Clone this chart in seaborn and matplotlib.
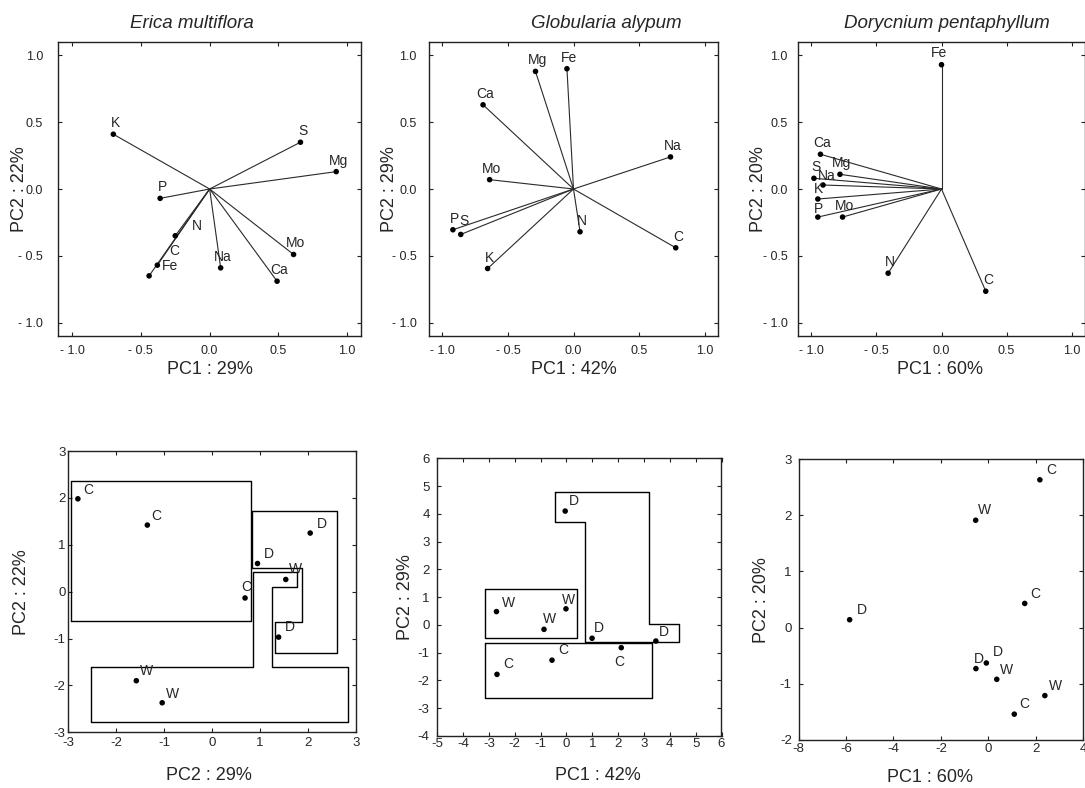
import matplotlib
matplotlib.use("Agg")
import matplotlib.pyplot as plt
import seaborn as sns

sns.set_style("ticks")
plt.rcParams["font.family"] = ["Liberation Sans", "DejaVu Sans"]
plt.rcParams["axes.unicode_minus"] = False

# ----------------------
# Loadings (top row)
# ----------------------
erica_vars = ["K", "S", "Mg", "P", "N", "C", "Fe", "Na", "Mo", "Ca"]
erica_pc1 = [-0.70, 0.66, 0.92, -0.36, -0.25, -0.38, -0.44, 0.08, 0.61, 0.49]
erica_pc2 = [0.41, 0.35, 0.13, -0.07, -0.35, -0.57, -0.65, -0.59, -0.49, -0.69]

glob_vars = ["Mg", "Fe", "Ca", "Na", "Mo", "P", "S", "N", "C", "K"]
glob_pc1 = [-0.29, -0.05, -0.69, 0.74, -0.64, -0.92, -0.86, 0.05, 0.78, -0.655]
glob_pc2 = [0.88, 0.90, 0.63, 0.24, 0.07, -0.305, -0.34, -0.32, -0.44, -0.595]

dory_vars = ["Fe", "Ca", "Mg", "S", "Na", "K", "P", "Mo", "N", "C"]
dory_pc1 = [0.0, -0.93, -0.78, -0.98, -0.91, -0.95, -0.95, -0.76, -0.41, 0.34]
dory_pc2 = [0.93, 0.26, 0.11, 0.08, 0.03, -0.075, -0.21, -0.21, -0.63, -0.765]

load_ticks = [-1.0, -0.5, 0.0, 0.5, 1.0]
load_ticklabels = ["- 1.0", "- 0.5", "0.0", "0.5", "1.0"]

# ----------------------
# Scores (bottom row)
# ----------------------
erica_grp = ["C", "C", "D", "D", "W", "C", "D", "W", "W"]
erica_s1 = [-2.80, -1.35, 2.05, 0.95, 1.54, 0.69, 1.39, -1.58, -1.04]
erica_s2 = [1.98, 1.42, 1.25, 0.60, 0.26, -0.135, -0.97, -1.90, -2.37]

glob_grp = ["D", "W", "W", "W", "D", "D", "C", "C", "C"]
glob_s1 = [-0.05, -2.71, -0.02, -0.87, 0.99, 3.46, 2.12, -0.56, -2.69]
glob_s2 = [4.10, 0.48, 0.58, -0.16, -0.48, -0.58, -0.82, -1.27, -1.78]

dory_grp = ["C", "W", "C", "D", "D", "D", "W", "W", "C"]
dory_s1 = [2.18, -0.53, 1.54, -5.85, -0.08, -0.52, 0.36, 2.39, 1.10]
dory_s2 = [2.63, 1.91, 0.43, 0.14, -0.63, -0.73, -0.92, -1.21, -1.54]

# group outlines (data units)
erica_hull_c_x = [-2.95, 0.82, 0.82, -2.95, -2.95]
erica_hull_c_y = [-0.63, -0.63, 2.35, 2.35, -0.63]
erica_hull_d_x = [0.84, 2.60, 2.60, 1.315, 1.315, 1.87, 1.87, 0.84, 0.84]
erica_hull_d_y = [1.73, 1.73, -1.31, -1.31, -0.64, -0.64, 0.51, 0.51, 1.73]
erica_hull_w_x = [-2.53, 0.863, 0.863, 1.78, 1.78, 1.26, 1.26, 2.83, 2.83, -2.53, -2.53]
erica_hull_w_y = [-1.61, -1.61, 0.41, 0.41, 0.107, 0.107, -1.61, -1.61, -2.77, -2.77, -1.61]

glob_hull_w_x = [-3.14, 0.42, 0.42, -3.14, -3.14]
glob_hull_w_y = [1.30, 1.30, -0.46, -0.46, 1.30]
glob_hull_c_x = [-3.14, 3.32, 3.32, -3.14, -3.14]
glob_hull_c_y = [-0.66, -0.66, -2.62, -2.62, -0.66]
glob_hull_d_x = [-0.435, 3.20, 3.20, 4.37, 4.37, 0.71, 0.71, -0.435, -0.435]
glob_hull_d_y = [4.80, 4.80, 0.02, 0.02, -0.62, -0.62, 3.72, 3.72, 4.80]

# tick positions for the score panels
erica_xt = [-3, -2, -1, 0, 1, 2, 3]
erica_yt = [-3, -2, -1, 0, 1, 2, 3]
glob_xt = [-5, -4, -3, -2, -1, 0, 1, 2, 3, 4, 5, 6]
glob_yt = [-4, -3, -2, -1, 0, 1, 2, 3, 4, 5, 6]
dory_xt = [-8, -6, -4, -2, 0, 2, 4]
dory_yt = [-2, -1, 0, 1, 2, 3]

# label nudges in pixels (label centre relative to point)
erica_nudge = {"N": (22, 10), "C": (17, 14), "Fe": (21, 10)}
glob_nudge = {"S": (3, 13)}
dory_nudge = {"Fe": (-3, 12), "Na": (4, 9), "K": (1, 10), "P": (1, 8)}
erica_s_nudge = [(10, 9), (9, 9), (12, 9), (11, 10), (10, 10), (1, 11), (11, 10), (10, 10), (10, 9)]
glob_s_nudge = [(9, 10), (12, 9), (3, 9), (5, 10), (7, 10), (8, 9), (-2, -14), (11, 10), (11, 10)]
dory_s_nudge = [(11, 10), (9, 10), (11, 9), (12, 10), (12, 11), (3, 10), (10, 9), (11, 10), (10, 10)]

W, H = 1085, 788
fig = plt.figure(figsize=(W / 100, H / 100), dpi=100)


def box(l, t, r, b):
    return fig.add_axes([l / W, 1 - b / H, (r - l) / W, (b - t) / H])


def put(x, y, s, **kw):
    fig.text(x / W, 1 - y / H, s, ha="center", va="center", **kw)


def frame(ax, xpad, ypad, size):
    ax.tick_params(direction="in", length=3, width=0.8, top=True, right=True,
                   labelsize=size, color="#222222")
    ax.tick_params(axis="x", pad=xpad)
    ax.tick_params(axis="y", pad=ypad)
    for sp in ax.spines.values():
        sp.set_linewidth(1.0)
        sp.set_color("#222222")


def loadings(ax, names, pc1, pc2, nudge, ypad):
    for x, y in zip(pc1, pc2):
        ax.plot([0, x], [0, y], color="#2a2a2a", lw=0.8, zorder=1)
    sns.scatterplot(x=pc1, y=pc2, ax=ax, color="black", s=16, edgecolor="none",
                    zorder=3, legend=False)
    for n, x, y in zip(names, pc1, pc2):
        dx, dy = nudge.get(n, (2, 11))
        ax.annotate(n, (x, y), xytext=(dx, dy), textcoords="offset pixels",
                    ha="center", va="center", fontsize=10)
    ax.set_xlim(-1.1, 1.1)
    ax.set_ylim(-1.1, 1.1)
    ax.set_xticks(load_ticks)
    ax.set_yticks(load_ticks)
    ax.set_xticklabels(load_ticklabels)
    ax.set_yticklabels(load_ticklabels)
    frame(ax, 6.5, ypad, 9)


def scores(ax, grp, s1, s2, nudge, xlim, ylim, xt, yt, xpad, ypad, hulls=()):
    for hx, hy in hulls:
        ax.plot(hx, hy, color="black", lw=1.0, zorder=1)
    sns.scatterplot(x=s1, y=s2, ax=ax, color="black", s=16, edgecolor="none",
                    zorder=3, legend=False)
    for g, x, y, (dx, dy) in zip(grp, s1, s2, nudge):
        ax.annotate(g, (x, y), xytext=(dx, dy), textcoords="offset pixels",
                    ha="center", va="center", fontsize=10)
    ax.set_xlim(*xlim)
    ax.set_ylim(*ylim)
    ax.set_xticks(xt)
    ax.set_yticks(yt)
    frame(ax, xpad, ypad, 9.5)


# top row
ax1 = box(58.3, 42, 361, 336)
loadings(ax1, erica_vars, erica_pc1, erica_pc2, erica_nudge, 11)
ax2 = box(429.3, 42, 717.7, 336)
loadings(ax2, glob_vars, glob_pc1, glob_pc2, glob_nudge, 9)
ax3 = box(798.3, 42, 1084.7, 336)
loadings(ax3, dory_vars, dory_pc1, dory_pc2, dory_nudge, 7.5)

# bottom row
ax4 = box(68.3, 451, 355.7, 732.3)
scores(ax4, erica_grp, erica_s1, erica_s2, erica_s_nudge, (-3, 3), (-3, 3),
       erica_xt, erica_yt, 3.5, 2,
       hulls=[(erica_hull_c_x, erica_hull_c_y), (erica_hull_d_x, erica_hull_d_y),
              (erica_hull_w_x, erica_hull_w_y)])
ax5 = box(437.3, 458.3, 721.5, 736)
scores(ax5, glob_grp, glob_s1, glob_s2, glob_s_nudge, (-5, 6), (-4, 6),
       glob_xt, glob_yt, 1.5, 5.5,
       hulls=[(glob_hull_w_x, glob_hull_w_y), (glob_hull_c_x, glob_hull_c_y),
              (glob_hull_d_x, glob_hull_d_y)])
ax6 = box(798.7, 459, 1083, 740)
scores(ax6, dory_grp, dory_s1, dory_s2, dory_s_nudge, (-8, 4), (-2, 3),
       dory_xt, dory_yt, 2, 5)

# titles and axis labels
put(192, 24, "Erica multiflora", fontsize=13.5, style="italic")
put(606, 24, "Globularia alypum", fontsize=13.5, style="italic")
put(947, 24, "Dorycnium pentaphyllum", fontsize=13.5, style="italic")

put(210, 369, "PC1 : 29%", fontsize=13)
put(574, 369, "PC1 : 42%", fontsize=13)
put(940, 369, "PC1 : 60%", fontsize=13)
put(19, 189, "PC2 : 22%", fontsize=13, rotation=90)
put(389, 189, "PC2 : 29%", fontsize=13, rotation=90)
put(759, 189, "PC2 : 20%", fontsize=13, rotation=90)

put(209, 775, "PC2 : 29%", fontsize=13)
put(598, 775, "PC1 : 42%", fontsize=13)
put(930, 778, "PC1 : 60%", fontsize=13)
put(22, 592, "PC2 : 22%", fontsize=13, rotation=90)
put(405, 597, "PC2 : 29%", fontsize=13, rotation=90)
put(762, 600, "PC2 : 20%", fontsize=13, rotation=90)

fig.savefig("out.png", dpi=100)
